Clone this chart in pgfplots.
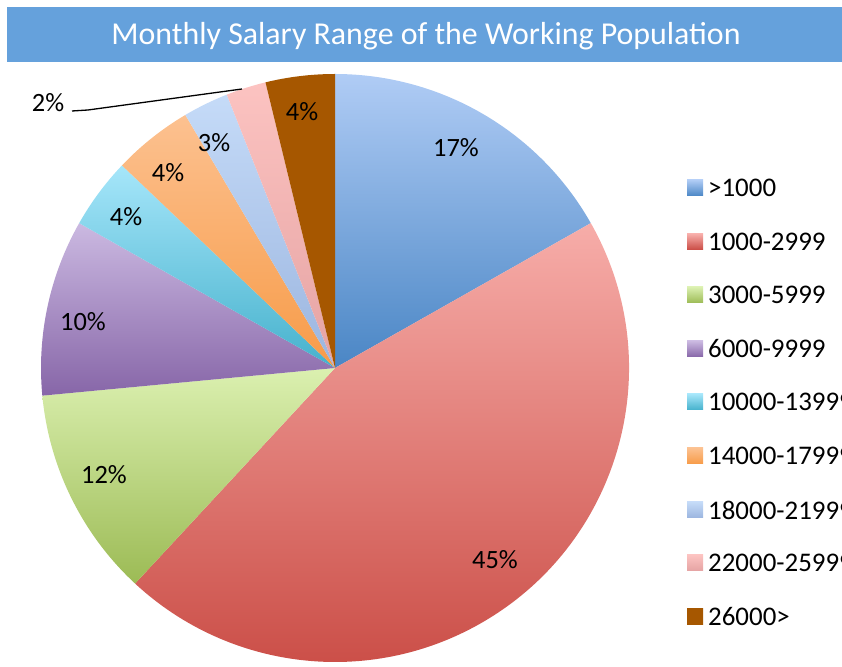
\documentclass[border=0pt]{standalone}
\usepackage{fontspec}
\setmainfont{Carlito}
\usepackage{pgfplots}
\pgfplotsset{compat=1.18}
\definecolor{banner}{HTML}{65A1DC}
\definecolor{blueT}{HTML}{B0CCF5}\definecolor{blueB}{HTML}{4A86C5}
\definecolor{redT}{HTML}{F7ADA9}\definecolor{redB}{HTML}{C94A43}
\definecolor{greenT}{HTML}{DBF0B0}\definecolor{greenB}{HTML}{9CBB55}
\definecolor{purpT}{HTML}{CBB9E1}\definecolor{purpB}{HTML}{8766A8}
\definecolor{cyanT}{HTML}{A6E6FA}\definecolor{cyanB}{HTML}{45B1CC}
\definecolor{orgT}{HTML}{FCC190}\definecolor{orgB}{HTML}{F79B48}
\definecolor{lbT}{HTML}{C5DBF8}\definecolor{lbB}{HTML}{9BB5DF}
\definecolor{pinkT}{HTML}{FCC3C1}\definecolor{pinkB}{HTML}{E5A3A3}
\definecolor{brown}{HTML}{A65700}
% shares (percent)
\def\vA{16.8}\def\vB{45.1}\def\vC{11.6}\def\vD{9.7}\def\vE{3.9}
\def\vF{4.4}\def\vG{2.5}\def\vH{2.2}\def\vI{3.8}
\pgfmathsetmacro\aA{90}
\pgfmathsetmacro\aB{\aA-3.6*\vA}
\pgfmathsetmacro\aC{\aB-3.6*\vB}
\pgfmathsetmacro\aD{\aC-3.6*\vC}
\pgfmathsetmacro\aE{\aD-3.6*\vD}
\pgfmathsetmacro\aF{\aE-3.6*\vE}
\pgfmathsetmacro\aG{\aF-3.6*\vF}
\pgfmathsetmacro\aH{\aG-3.6*\vG}
\pgfmathsetmacro\aI{\aH-3.6*\vH}
\pgfmathsetmacro\aJ{\aI-3.6*\vI}
\def\R{294bp}
\newcommand\slice[4]{%
  \path[top color=#3,bottom color=#4,draw=none]
    (axis cs:335,299) -- ++(#1:\R) arc[start angle=#1,end angle=#2,radius=\R] -- cycle;}
\newcommand\lab[3]{\node[font=\fontsize{26.5}{31}\selectfont,text=black,inner sep=0pt] at (axis cs:#1,#2) {#3};}
\newcommand\leg[4]{%
  \path[top color=#2,bottom color=#3] (axis cs:687,#1-8) rectangle (axis cs:703,#1+8);
  \node[font=\fontsize{27}{32}\selectfont,anchor=west,inner sep=0pt] at (axis cs:708,#1) {#4};}
\begin{document}
\begin{tikzpicture}
\useasboundingbox (0,0) rectangle (842bp,667bp);
\clip (0,0) rectangle (842bp,667bp);
\begin{axis}[scale only axis,width=842bp,height=667bp,
  xmin=0,xmax=842,ymin=0,ymax=667,hide axis,clip=false,
  at={(0,0)},anchor=south west]
\fill[banner] (axis cs:7,605) rectangle (axis cs:850,660);
\node[text=white,font=\fontsize{32}{38}\selectfont,inner sep=0pt] at (axis cs:426,631) {Monthly Salary Range of the Working Population};
\slice{\aA}{\aB}{blueT}{blueB}
\slice{\aB}{\aC}{redT}{redB}
\slice{\aC}{\aD}{greenT}{greenB}
\slice{\aD}{\aE}{purpT}{purpB}
\slice{\aE}{\aF}{cyanT}{cyanB}
\slice{\aF}{\aG}{orgT}{orgB}
\slice{\aG}{\aH}{lbT}{lbB}
\slice{\aH}{\aI}{pinkT}{pinkB}
\slice{\aI}{\aJ}{brown}{brown}
\lab{456}{519}{17\%}
\lab{495}{107}{45\%}
\lab{104}{192}{12\%}
\lab{83}{345}{10\%}
\lab{126}{450}{4\%}
\lab{168}{494}{4\%}
\lab{214}{524}{3\%}
\lab{302}{555}{4\%}
\lab{48}{564}{2\%}
\draw[black,line width=1.3bp] (axis cs:72,556) -- (axis cs:88,557) -- (axis cs:242,578);
\leg{479}{blueT}{blueB}{>1000}
\leg{425}{redT}{redB}{1000-2999}
\leg{372}{greenT}{greenB}{3000-5999}
\leg{318}{purpT}{purpB}{6000-9999}
\leg{265}{cyanT}{cyanB}{10000-13999}
\leg{211}{orgT}{orgB}{14000-17999}
\leg{157}{lbT}{lbB}{18000-21999}
\leg{104}{pinkT}{pinkB}{22000-25999}
\leg{50}{brown}{brown}{26000>}
\end{axis}
\end{tikzpicture}
\end{document}
